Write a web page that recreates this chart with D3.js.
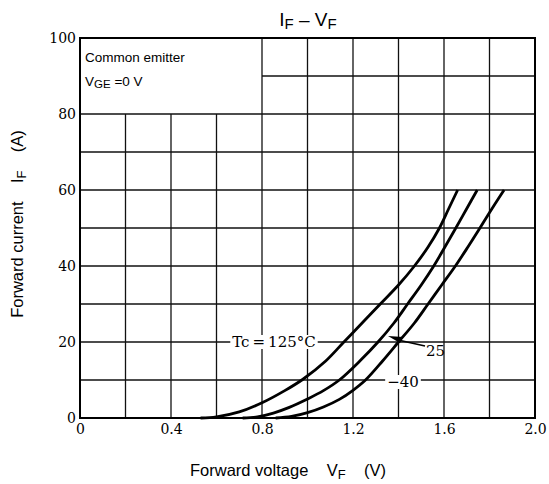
<!DOCTYPE html>
<html>
<head>
<meta charset="utf-8">
<script src="https://cdn.jsdelivr.net/npm/d3@7"></script>
<style>
  body { margin: 0; background: #fff; }
  svg { display: block; }
</style>
</head>
<body>
<div id="chart"></div>
<script>
// data ====================
var xTicks = [0, 0.4, 0.8, 1.2, 1.6, 2.0];
var xTickLabels = ["0", "0.4", "0.8", "1.2", "1.6", "2.0"];
var yTicks = [0, 20, 40, 60, 80, 100];

// forward voltage (V), forward current (A)
var vf125 = [0.53, 0.60, 0.70, 0.80, 0.90, 0.98, 1.08, 1.16, 1.24, 1.32, 1.40, 1.47, 1.53, 1.58, 1.62, 1.66];
var if125 = [0, 0.3, 1.6, 4.0, 7.2, 10.2, 15, 20, 25, 30, 35, 40, 45, 50, 55, 60];

var vf25 = [0.715, 0.78, 0.85, 0.92, 1.00, 1.07, 1.14, 1.23, 1.31, 1.38, 1.44, 1.50, 1.555, 1.604, 1.652, 1.699, 1.746];
var if25 = [0, 0.3, 1.3, 2.8, 5, 7.2, 10, 15, 20, 25, 30, 35, 40, 45, 50, 55, 60];

var vfm40 = [0.86, 0.93, 1.00, 1.07, 1.14, 1.20, 1.255, 1.33, 1.40, 1.47, 1.53, 1.59, 1.65, 1.705, 1.758, 1.81, 1.864];
var ifm40 = [0, 0.4, 1.4, 2.9, 4.9, 7.3, 10, 15, 20, 25, 30, 35, 40, 45, 50, 55, 60];

var width = 549, height = 484;
var margin = { top: 38, right: 14, bottom: 66, left: 80 };

var svg = d3.select('#chart')
  .append('svg')
  .attr('width', width)
  .attr('height', height);

var x = d3.scaleLinear().domain([0, 2.0]).range([margin.left, width - margin.right]);
var y = d3.scaleLinear().domain([0, 100]).range([height - margin.bottom, margin.top]);

var sans = "'Liberation Sans', Arial, sans-serif";
var serif = "'DejaVu Serif', 'Liberation Serif', serif";

// grid ====================
var vLines = d3.range(0.2, 2.0, 0.2);
var hLines = d3.range(10, 100, 10);

svg.append('g').selectAll('line.v')
  .data(vLines)
  .enter().append('line')
  .attr('x1', function(d) { return x(d); })
  .attr('x2', function(d) { return x(d); })
  .attr('y1', y(0))
  .attr('y2', function(d) { return d < 0.79 ? y(80) : y(100); })
  .attr('stroke', '#111')
  .attr('stroke-width', 1.3);

svg.append('g').selectAll('line.h')
  .data(hLines)
  .enter().append('line')
  .attr('x1', function(d) { return d > 85 ? x(0.8) : x(0); })
  .attr('x2', x(2.0))
  .attr('y1', function(d) { return y(d); })
  .attr('y2', function(d) { return y(d); })
  .attr('stroke', '#111')
  .attr('stroke-width', 1.3);

// frame
svg.append('rect')
  .attr('x', x(0))
  .attr('y', y(100))
  .attr('width', x(2.0) - x(0))
  .attr('height', y(0) - y(100))
  .attr('fill', 'none')
  .attr('stroke', '#000')
  .attr('stroke-width', 2);

// axes (labels only) ====================
var xAxis = d3.axisBottom(x)
  .tickValues(xTicks)
  .tickFormat(function(d, i) { return xTickLabels[i]; })
  .tickSize(0)
  .tickPadding(6);

var gx = svg.append('g')
  .attr('transform', 'translate(0,' + y(0) + ')')
  .call(xAxis);
gx.select('.domain').remove();
gx.selectAll('text')
  .style('font-family', serif)
  .style('font-size', '14px')
  .attr('fill', '#000');

var yAxis = d3.axisLeft(y)
  .tickValues(yTicks)
  .tickSize(0)
  .tickPadding(4);

var gy = svg.append('g')
  .attr('transform', 'translate(' + x(0) + ',0)')
  .call(yAxis);
gy.select('.domain').remove();
gy.selectAll('text')
  .style('font-family', serif)
  .style('font-size', '14px')
  .attr('fill', '#000');

// curves ====================
var line = d3.line()
  .x(function(d) { return x(d[0]); })
  .y(function(d) { return y(d[1]); })
  .curve(d3.curveCatmullRom.alpha(0.5));

var series = [
  d3.zip(vf125, if125),
  d3.zip(vf25, if25),
  d3.zip(vfm40, ifm40)
];

svg.append('g').selectAll('path')
  .data(series)
  .enter().append('path')
  .attr('d', line)
  .attr('fill', 'none')
  .attr('stroke', '#000')
  .attr('stroke-width', 2.8);

// curve labels ====================
function label(txt, cx, cy) {
  var t = svg.append('text')
    .attr('x', cx)
    .attr('y', cy)
    .attr('text-anchor', 'middle')
    .attr('dominant-baseline', 'central')
    .style('font-family', serif)
    .style('font-size', '15px')
    .text(txt);
  var b = t.node().getBBox();
  svg.insert('rect', function() { return t.node(); })
    .attr('x', b.x - 2)
    .attr('y', b.y + 2)
    .attr('width', b.width + 4)
    .attr('height', b.height - 4)
    .attr('fill', '#fff');
  return t;
}

label('Tc\u2009=\u2009125\u00b0C', 274, y(20));
label('\u221240', 403, y(10) + 2);

// "25" with leader arrow
svg.append('line')
  .attr('x1', 398)
  .attr('y1', 340)
  .attr('x2', 425)
  .attr('y2', 346)
  .attr('stroke', '#000')
  .attr('stroke-width', 1.5);
svg.append('path')
  .attr('d', 'M388,336 L403,337 L400,343 Z')
  .attr('fill', '#000');
svg.append('text')
  .attr('x', 426)
  .attr('y', 356)
  .style('font-family', serif)
  .style('font-size', '15px')
  .text('25');

// conditions box text ====================
svg.append('text')
  .attr('x', 85)
  .attr('y', 62)
  .style('font-family', sans)
  .style('font-size', '13.5px')
  .text('Common emitter');

var vge = svg.append('text')
  .attr('x', 85)
  .attr('y', 86)
  .style('font-family', sans)
  .style('font-size', '13.5px');
vge.append('tspan').text('V');
vge.append('tspan').attr('dy', 2).style('font-size', '11.5px').text('GE');
vge.append('tspan').attr('dy', -2).text(' =0 V');

// title ====================
var title = svg.append('text')
  .attr('x', 308)
  .attr('y', 26)
  .attr('text-anchor', 'middle')
  .style('font-family', sans)
  .style('font-size', '19px');
title.append('tspan').text('I');
title.append('tspan').attr('dy', 3).style('font-size', '15px').text('F');
title.append('tspan').attr('dy', -3).text(' \u2013 V');
title.append('tspan').attr('dy', 3).style('font-size', '15px').text('F');

// axis titles ====================
var xt = svg.append('text')
  .attr('x', 288)
  .attr('y', 476)
  .attr('text-anchor', 'middle')
  .style('font-family', sans)
  .style('font-size', '16.5px')
  .attr('xml:space', 'preserve');
xt.append('tspan').text('Forward voltage    V');
xt.append('tspan').attr('dy', 3).style('font-size', '13px').text('F');
xt.append('tspan').attr('dy', -3).text('    (V)');

var yt = svg.append('text')
  .attr('transform', 'translate(23,224) rotate(-90)')
  .attr('text-anchor', 'middle')
  .style('font-family', sans)
  .style('font-size', '16.5px')
  .attr('xml:space', 'preserve');
yt.append('tspan').text('Forward current    I');
yt.append('tspan').attr('dy', 3).style('font-size', '13px').text('F');
yt.append('tspan').attr('dy', -3).text('    (A)');
</script>
</body>
</html>
